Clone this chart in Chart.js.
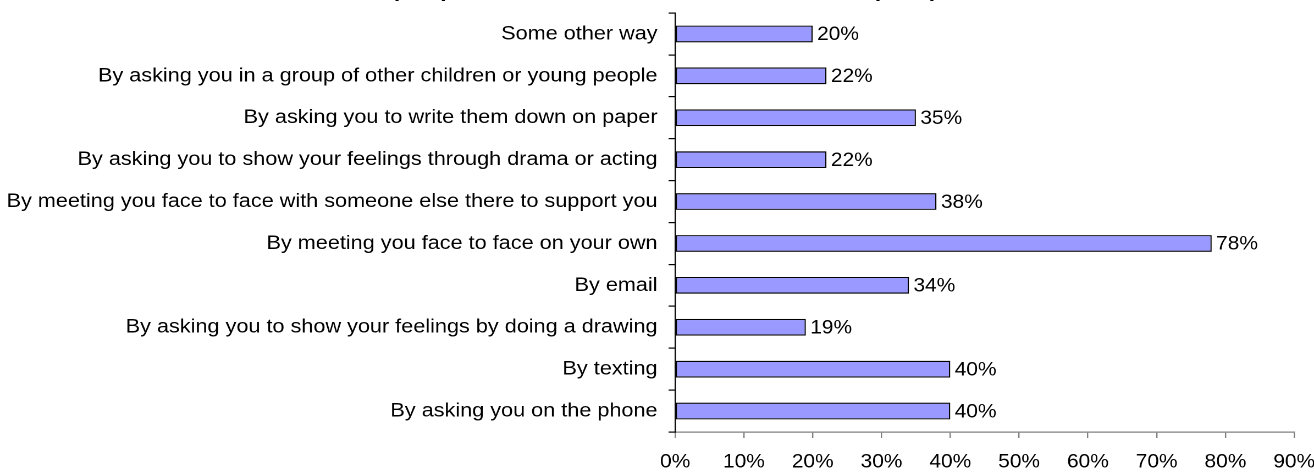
<!DOCTYPE html>
<html>
<head>
<meta charset="utf-8">
<script src="https://cdn.jsdelivr.net/npm/chart.js@4/dist/chart.umd.min.js"></script>
<style>
  html, body { margin:0; padding:0; background:#fff; }
  #c { display:block; }
</style>
</head>
<body>
<canvas id="c" width="1195" height="472" style="width:1314px;height:472px"></canvas>
<script>
// Data (top to bottom)
const categories = [
  'Some other way',
  'By asking you in a group of other children or young people',
  'By asking you to write them down on paper',
  'By asking you to show your feelings through drama or acting',
  'By meeting you face to face with someone else there to support you',
  'By meeting you face to face on your own',
  'By email',
  'By asking you to show your feelings by doing a drawing',
  'By texting',
  'By asking you on the phone'
];
const values = [20, 22, 35, 22, 38, 78, 34, 19, 40, 40];
const xTicks = [0, 10, 20, 30, 40, 50, 60, 70, 80, 90];
const titleText = '(Respondents could choose more than one option)';

const FONT = '"Liberation Sans", Arial, sans-serif';

// title mostly cut off at the top edge, only the bottoms of glyphs show
const cutTitle = {
  id: 'cutTitle',
  afterDraw(chart){
    const ctx = chart.ctx;
    ctx.save();
    ctx.font = 'bold 20.5px ' + FONT;
    ctx.fillStyle = '#000';
    ctx.textAlign = 'left';
    ctx.textBaseline = 'alphabetic';
    ctx.fillText(titleText, 356, -3);
    ctx.restore();
  }
};

// value labels at bar ends
const barLabels = {
  id: 'barLabels',
  afterDatasetsDraw(chart){
    const ctx = chart.ctx;
    const meta = chart.getDatasetMeta(0);
    ctx.save();
    ctx.font = '19px ' + FONT;
    ctx.fillStyle = '#000';
    ctx.textAlign = 'left';
    ctx.textBaseline = 'middle';
    meta.data.forEach((bar, i)=>{
      ctx.fillText(values[i] + '%', bar.x + 4, bar.y + 1);
    });
    ctx.restore();
  }
};

new Chart(document.getElementById('c'), {
  type: 'bar',
  data: {
    labels: categories,
    datasets: [{
      data: values,
      backgroundColor: '#9999FF',
      borderColor: '#000',
      borderWidth: 1.2,
      borderSkipped: false,
      categoryPercentage: 0.4,
      barPercentage: 1
    }]
  },
  options: {
    indexAxis: 'y',
    responsive: false,
    devicePixelRatio: 2,
    animation: false,
    layout: { padding: { top: 13, left: 0, right: 0, bottom: 0 } },
    plugins: { legend: { display: false }, tooltip: { enabled: false } },
    scales: {
      x: {
        min: 0, max: 90,
        afterBuildTicks: s => { s.ticks = xTicks.map(v => ({ value: v })); },
        afterFit: s => { s.height = 40; s.paddingRight = 18; s.paddingLeft = 0; },
        ticks: {
          color: '#000',
          font: { family: FONT, size: 19 },
          padding: 13,
          maxRotation: 0,
          callback: v => v + '%'
        },
        grid: { drawOnChartArea: false, drawTicks: true, tickLength: 6, color: '#808080', lineWidth: 1.2 },
        border: { display: true, color: '#808080', width: 1.2 }
      },
      y: {
        afterFit: s => { s.width = 614; s.paddingTop = 0; s.paddingBottom = 0; },
        ticks: {
          color: '#000',
          font: { family: FONT, size: 19.7 },
          padding: 10
        },
        grid: { drawOnChartArea: false, drawTicks: true, tickLength: 6, color: '#000', lineWidth: 1.2, offset: true },
        border: { display: true, color: '#000', width: 1.2 }
      }
    }
  },
  plugins: [cutTitle, barLabels]
});
</script>
</body>
</html>
